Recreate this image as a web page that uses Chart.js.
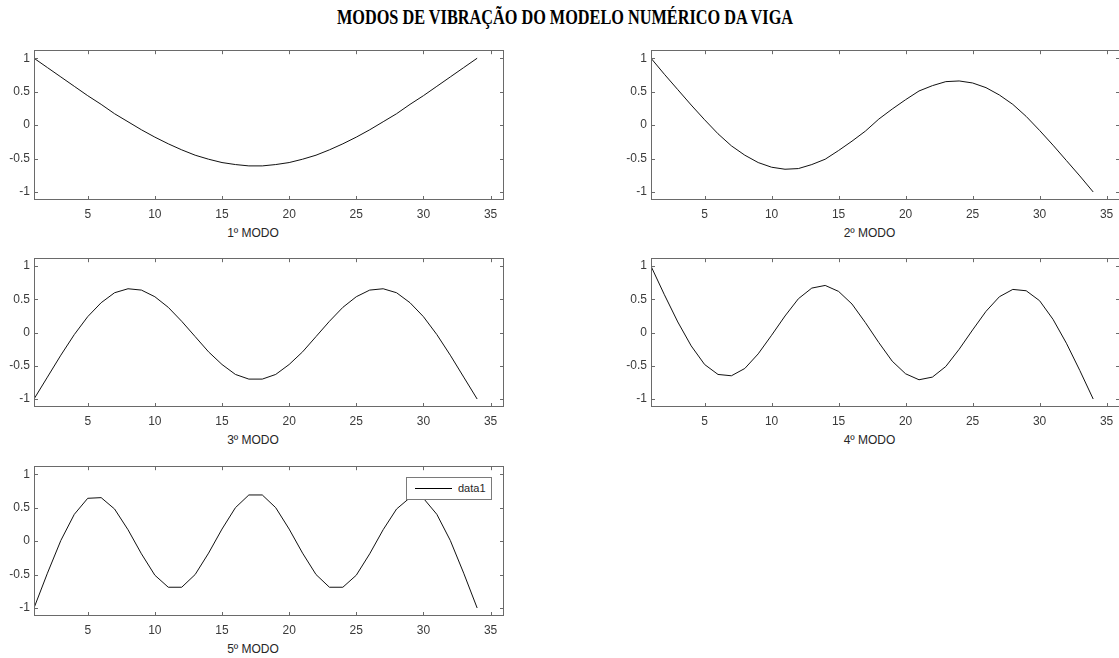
<!DOCTYPE html>
<html>
<head>
<meta charset="utf-8">
<script src="https://cdn.jsdelivr.net/npm/chart.js@4.4.1/dist/chart.umd.min.js"></script>
<style>
  body { margin: 0; background: #fff; width: 1119px; height: 658px; overflow: hidden; position: relative;
         font-family: "Liberation Sans", Arial, sans-serif; }
  #title { position: absolute; left: 265px; width: 600px; top: 6px; text-align: center;
           font: bold 20px "Liberation Serif", "Times New Roman", serif; color: #000; white-space: nowrap;
           transform: scaleX(0.813); transform-origin: 50% 50%; }
  .panel { position: absolute; }
  .xlab { position: absolute; width: 160px; text-align: center; font-size: 12px; color: #262626; line-height: 14px; }
  #legend { position: absolute; left: 406px; top: 477px; width: 84px; height: 21px; background: #fff;
            border: 1px solid #7a7a7a; font-size: 11px; color: #262626; }
  #legend .ln { position: absolute; left: 8px; top: 10px; width: 37px; border-top: 1px solid #000; }
  #legend .tx { position: absolute; left: 51px; top: 4px; line-height: 12px; }
</style>
</head>
<body>
<div id="title">MODOS DE VIBRAÇÃO DO MODELO NUMÉRICO DA VIGA</div>

<script>
// nós da viga
const nodes = [1,2,3,4,5,6,7,8,9,10,11,12,13,14,15,16,17,18,19,20,21,22,23,24,25,26,27,28,29,30,31,32,33,34];

// modos
const modo1 = [1, 0.86, 0.72, 0.58, 0.44, 0.31, 0.17, 0.05, -0.07, -0.18, -0.28, -0.37, -0.45, -0.51, -0.56, -0.59, -0.61,
               -0.61, -0.59, -0.56, -0.51, -0.45, -0.37, -0.28, -0.18, -0.07, 0.05, 0.17, 0.31, 0.44, 0.58, 0.72, 0.86, 1];
const modo2 = [1, 0.76, 0.53, 0.30, 0.08, -0.13, -0.31, -0.45, -0.56, -0.63, -0.66, -0.65, -0.59, -0.51, -0.38, -0.24, -0.09,
               0.09, 0.24, 0.38, 0.51, 0.59, 0.65, 0.66, 0.63, 0.56, 0.45, 0.31, 0.13, -0.08, -0.30, -0.53, -0.76, -1];
const modo3 = [-1, -0.67, -0.34, -0.03, 0.24, 0.45, 0.60, 0.66, 0.64, 0.54, 0.38, 0.17, -0.06, -0.29, -0.48, -0.63, -0.70,
               -0.70, -0.63, -0.48, -0.29, -0.06, 0.17, 0.38, 0.54, 0.64, 0.66, 0.60, 0.45, 0.24, -0.03, -0.34, -0.67, -1];
const modo4 = [1, 0.57, 0.16, -0.20, -0.48, -0.63, -0.65, -0.54, -0.32, -0.04, 0.25, 0.51, 0.67, 0.71, 0.62, 0.43, 0.15,
               -0.15, -0.43, -0.62, -0.71, -0.67, -0.51, -0.25, 0.04, 0.32, 0.54, 0.65, 0.63, 0.48, 0.20, -0.16, -0.57, -1];
const modo5 = [-1, -0.48, 0.01, 0.40, 0.64, 0.65, 0.48, 0.17, -0.19, -0.51, -0.69, -0.69, -0.50, -0.18, 0.18, 0.50, 0.69,
               0.69, 0.50, 0.18, -0.18, -0.50, -0.69, -0.69, -0.51, -0.19, 0.17, 0.48, 0.65, 0.64, 0.40, 0.01, -0.48, -1];

const xTicks = [5, 10, 15, 20, 25, 30, 35];
const yTicks = [-1, -0.5, 0, 0.5, 1];
const xLabels = ['1º MODO', '2º MODO', '3º MODO', '4º MODO', '5º MODO'];
const seriesName = 'data1';

const AXIS = '#6a6a6a', TXT = '#3a3a3a', TICK = 4;
const PADL = 34, PADT = 10, PADR = 12, PADB = 26;

// caixa + marcas para dentro (estilo matlab)
const boxTicks = {
  id: 'boxTicks',
  afterDraw(chart) {
    const {ctx, chartArea: a, scales: {x, y}} = chart;
    ctx.save();
    ctx.strokeStyle = AXIS;
    ctx.lineWidth = 1;
    ctx.beginPath();
    x.ticks.forEach(t => {
      const px = Math.round(x.getPixelForValue(t.value)) + 0.5;
      ctx.moveTo(px, a.bottom); ctx.lineTo(px, a.bottom - TICK);
      ctx.moveTo(px, a.top); ctx.lineTo(px, a.top + TICK);
    });
    y.ticks.forEach(t => {
      const py = Math.round(y.getPixelForValue(t.value)) + 0.5;
      ctx.moveTo(a.left, py); ctx.lineTo(a.left + TICK, py);
      ctx.moveTo(a.right, py); ctx.lineTo(a.right - TICK, py);
    });
    ctx.stroke();
    ctx.strokeRect(Math.round(a.left) + 0.5, Math.round(a.top) + 0.5,
                   Math.round(a.right - a.left) - 1, Math.round(a.bottom - a.top) - 1);
    ctx.restore();
  }
};

// retângulos das áreas de plotagem [left, top, right, bottom]
const boxes = [
  [34, 49, 504, 200],
  [651, 49, 1120, 200],
  [34, 257, 504, 407],
  [651, 257, 1120, 407],
  [34, 465, 504, 616]
];
const modos = [modo1, modo2, modo3, modo4, modo5];

modos.forEach((vals, i) => {
  const [L, T, R, B] = boxes[i];
  const div = document.createElement('div');
  div.className = 'panel';
  div.style.left = (L - PADL) + 'px';
  div.style.top = (T - PADT) + 'px';
  div.style.width = (R - L + PADL + PADR) + 'px';
  div.style.height = (B - T + PADT + PADB) + 'px';
  const cv = document.createElement('canvas');
  div.appendChild(cv);
  document.body.appendChild(div);

  const lab = document.createElement('div');
  lab.className = 'xlab';
  lab.textContent = xLabels[i];
  lab.style.left = ((L + R) / 2 - 16 - 80) + 'px';
  lab.style.top = (B + 33 - 7) + 'px';
  document.body.appendChild(lab);

  new Chart(cv, {
    type: 'line',
    data: {
      datasets: [{
        label: seriesName,
        data: nodes.map((n, k) => ({x: n, y: vals[k]})),
        borderColor: '#111',
        borderWidth: 1,
        pointRadius: 0,
        tension: 0,
        fill: false
      }]
    },
    options: {
      responsive: true,
      maintainAspectRatio: false,
      animation: false,
      events: [],
      layout: { padding: {left: 0, top: PADT, right: PADR, bottom: 0}, autoPadding: false },
      plugins: { legend: {display: false}, tooltip: {enabled: false} },
      scales: {
        x: {
          type: 'linear', min: 1, max: 36,
          afterBuildTicks: s => { s.ticks = xTicks.map(v => ({value: v})); },
          afterFit: s => { s.height = PADB; },
          grid: {display: false, drawTicks: false},
          border: {display: false},
          ticks: {color: TXT, font: {family: 'Liberation Sans', size: 12}, padding: 7,
                  maxRotation: 0, autoSkip: false, callback: v => String(v)}
        },
        y: {
          type: 'linear', min: -1.12, max: 1.12,
          afterBuildTicks: s => { s.ticks = yTicks.map(v => ({value: v})); },
          afterFit: s => { s.width = PADL; },
          grid: {display: false, drawTicks: false},
          border: {display: false},
          ticks: {color: TXT, font: {family: 'Liberation Sans', size: 12}, padding: 4,
                  autoSkip: false, callback: v => String(v)}
        }
      }
    },
    plugins: [boxTicks]
  });
});

// legenda do 5º modo
const leg = document.createElement('div');
leg.id = 'legend';
leg.innerHTML = '<div class="ln"></div><div class="tx"></div>';
leg.querySelector('.tx').textContent = seriesName;
document.body.appendChild(leg);
</script>
</body>
</html>
